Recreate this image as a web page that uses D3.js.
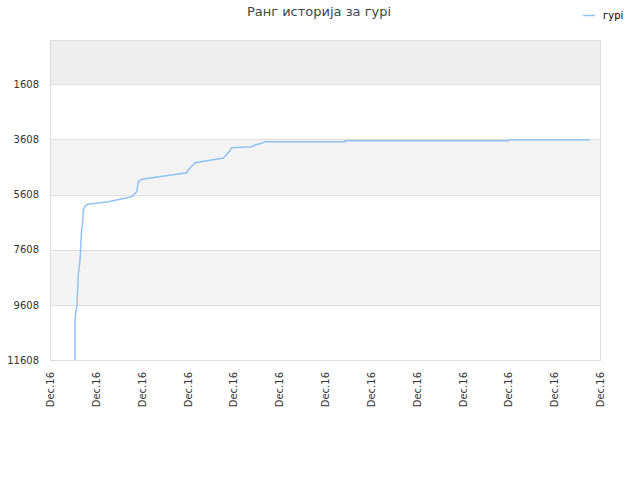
<!DOCTYPE html>
<html><head><meta charset="utf-8">
<script src="https://cdn.jsdelivr.net/npm/d3@7"></script>
<style>
body{margin:0;background:#fff;}
text{font-family:"DejaVu Sans",sans-serif;}
</style></head>
<body><svg id="c" width="640" height="480"></svg>
<script>
const title = "Ранг историја за гурі";
const seriesName = "гурі";
const yTicks = [1608, 3608, 5608, 7608, 9608, 11608];
const xStart = "2016-12-01T00:00";
const xEnd = "2016-12-13T00:00";
const times = [
 "2016-12-01T13:05","2016-12-01T13:05","2016-12-01T13:36","2016-12-01T14:08","2016-12-01T14:30",
 "2016-12-01T14:48","2016-12-01T15:20","2016-12-01T15:52","2016-12-01T16:13","2016-12-01T16:36",
 "2016-12-01T17:07","2016-12-01T17:27","2016-12-01T18:20","2016-12-01T19:44","2016-12-02T06:32",
 "2016-12-02T18:48","2016-12-02T20:31","2016-12-02T21:24","2016-12-02T22:15","2016-12-03T00:00",
 "2016-12-03T23:35","2016-12-04T00:24","2016-12-04T03:56","2016-12-04T18:44","2016-12-04T22:15",
 "2016-12-04T23:08","2016-12-05T09:37","2016-12-05T11:21","2016-12-05T14:51","2016-12-05T16:35",
 "2016-12-07T10:28","2016-12-07T10:28","2016-12-11T00:00","2016-12-11T00:30","2016-12-12T18:46"
];
const ranks = [
 11608,10157,9855,9613,9069,
 8525,8223,7860,7255,6892,
 6590,6167,6022,5960,5866,
 5684,5563,5503,5140,5053,
 4814,4716,4451,4280,4016,
 3907,3871,3809,3747,3689,
 3689,3653,3653,3617,3617
];

const svg = d3.select("#c");
const m = {l:50, r:600, t:40, b:360};
const parse = d3.timeParse("%Y-%m-%dT%H:%M");
const x = d3.scaleTime().domain([parse(xStart), parse(xEnd)]).range([m.l, m.r]);
const y = d3.scaleLinear().domain([0, 11608]).range([m.t, m.b]);

// bands
const bandEdges = [0].concat(yTicks);
for (let i = 0; i < bandEdges.length - 1; i++) {
  if (i % 2 === 0) {
    svg.append("rect").attr("x", m.l).attr("width", m.r - m.l)
      .attr("y", y(bandEdges[i])).attr("height", y(bandEdges[i+1]) - y(bandEdges[i]))
      .attr("fill", i === 0 ? "#eeeeee" : "#f3f3f3");
  }
}
// grid lines
svg.append("g").selectAll("line").data(yTicks).join("line")
  .attr("x1", m.l).attr("x2", m.r)
  .attr("y1", d => Math.round(y(d)) + 0.5).attr("y2", d => Math.round(y(d)) + 0.5)
  .attr("stroke", "#dddddd");
// border
svg.append("rect").attr("x", m.l + 0.5).attr("y", m.t + 0.5)
  .attr("width", m.r - m.l).attr("height", m.b - m.t)
  .attr("fill", "none").attr("stroke", "#dddddd");

// y axis labels
const yAxis = d3.axisLeft(y).tickValues(yTicks).tickSize(0).tickPadding(11).tickFormat(d3.format("d"));
const ya = svg.append("g").attr("transform", `translate(${m.l},0)`).call(yAxis);
ya.select(".domain").remove();
ya.selectAll("text").attr("fill", "#333").style("font-size", "10px").style("font-family", "DejaVu Sans");

// x axis labels
const xAxis = d3.axisBottom(x).ticks(d3.timeDay.every(1)).tickSize(0).tickPadding(0)
  .tickFormat(d3.timeFormat("%b.%y"));
const xa = svg.append("g").attr("transform", `translate(0,${m.b})`).call(xAxis);
xa.select(".domain").remove();
xa.selectAll("text").attr("fill", "#333").style("font-size", "10px").style("font-family", "DejaVu Sans")
  .attr("text-anchor", "end").attr("dy", "0.35em")
  .attr("transform", "translate(0,12) rotate(-90)").attr("x", 0).attr("y", 0);

// line
const pts = times.map((t, i) => [parse(t), ranks[i]]);
svg.append("path").datum(pts)
  .attr("fill", "none").attr("stroke", "#90c2f4").attr("stroke-width", 1.5)
  .attr("d", d3.line().x(d => x(d[0])).y(d => y(d[1])));

// title
svg.append("text").attr("x", 319).attr("y", 16).attr("text-anchor", "middle")
  .attr("fill", "#444").style("font-size", "13px").text(title);

// legend
svg.append("line").attr("x1", 583).attr("x2", 595).attr("y1", 15.5).attr("y2", 15.5)
  .attr("stroke", "#90c2f4").attr("stroke-width", 1.5);
svg.append("text").attr("x", 603).attr("y", 19).attr("fill", "#000")
  .style("font-size", "10px").text(seriesName);
</script></body></html>
